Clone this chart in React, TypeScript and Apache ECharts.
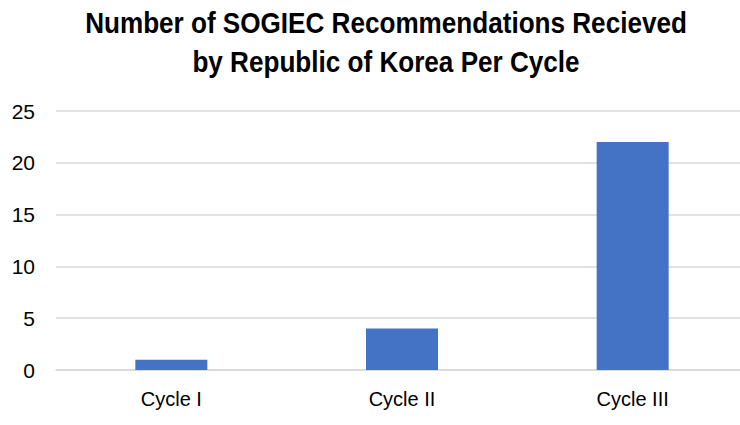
import React, { useEffect, useRef } from "react";
import * as echarts from "echarts";

const categories = ["Cycle I", "Cycle II", "Cycle III"];
const values = [1, 4, 22];
const yTicks = [0, 5, 10, 15, 20, 25];
const titleLines = ["Number of SOGIEC Recommendations Recieved", "by Republic of Korea Per Cycle"];

const FONT = "'Liberation Sans', Arial, sans-serif";

export default function App() {
  const ref = useRef<HTMLDivElement>(null);
  useEffect(() => {
    if (!ref.current) return;
    const chart = echarts.init(ref.current, null, { renderer: "svg" });
    chart.setOption({
      animation: false,
      backgroundColor: "#ffffff",
      graphic: titleLines.map((t, i) => ({
        type: "text",
        x: 386,
        y: i === 0 ? 22.5 : 61.5,
        scaleX: 0.87,
        style: {
          text: t,
          fontFamily: FONT,
          fontWeight: "bold",
          fontSize: 30,
          fill: "#000000",
          align: "center",
          verticalAlign: "middle",
        },
      })),
      grid: { left: 56, width: 692, top: 111, height: 259 },
      xAxis: {
        type: "category",
        data: categories,
        axisLine: { show: true, lineStyle: { color: "#D9D9D9", width: 1.5 } },
        axisTick: { show: false },
        axisLabel: {
          fontFamily: FONT,
          fontSize: 20,
          color: "#000000",
          margin: 19,
        },
      },
      yAxis: {
        type: "value",
        min: yTicks[0],
        max: yTicks[yTicks.length - 1],
        interval: 5,
        axisLine: { show: false },
        axisTick: { show: false },
        splitLine: { lineStyle: { color: "#D9D9D9", width: 1.5 } },
        axisLabel: {
          fontFamily: FONT,
          fontSize: 21,
          color: "#000000",
          margin: 21,
        },
      },
      series: [
        {
          type: "bar",
          data: values,
          barWidth: 72,
          itemStyle: { color: "#4472C4" },
        },
      ],
    });
    return () => chart.dispose();
  }, []);
  return (
    <div style={{ position: "fixed", left: 0, top: 0, width: 740, height: 425, overflow: "hidden", background: "#fff" }}>
      <div ref={ref} style={{ width: 760, height: 425 }} />
    </div>
  );
}
